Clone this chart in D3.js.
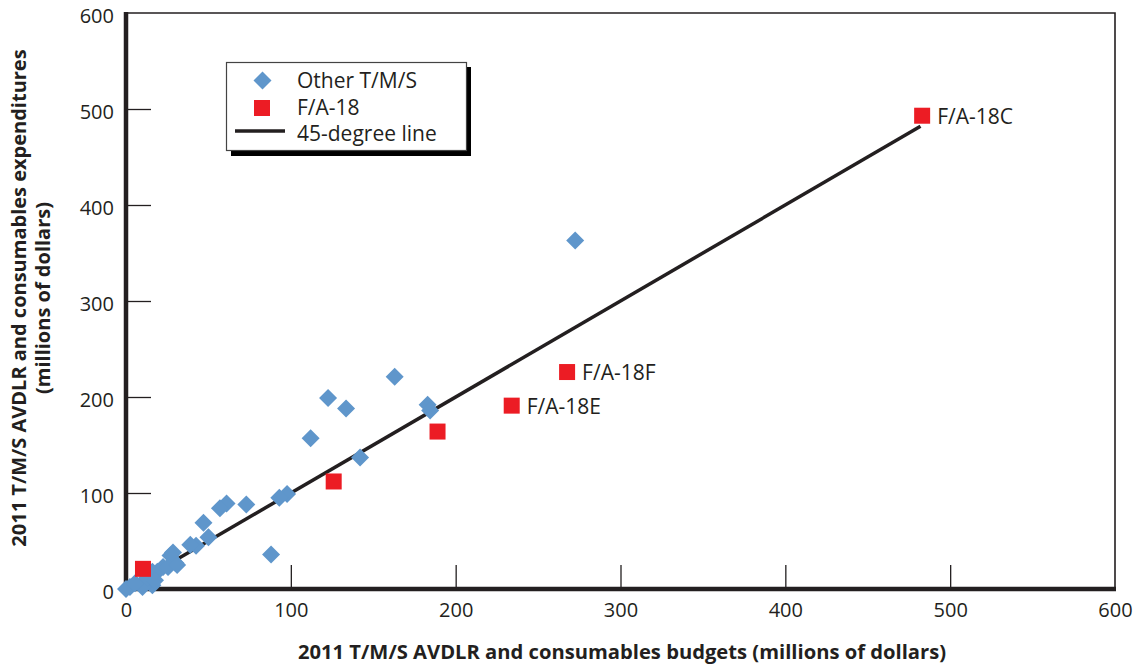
<!DOCTYPE html>
<html>
<head>
<meta charset="utf-8">
<script src="https://cdn.jsdelivr.net/npm/d3@7"></script>
<style>
  html, body { margin: 0; padding: 0; background: #fff; }
  svg { display: block; font-family: "Open Sans", "Noto Sans", sans-serif; }
</style>
</head>
<body>
<svg id="chart" width="1140" height="669"></svg>
<script>
// ---- data ----
const otherX = [272.5, 163, 122.6, 133.5, 112, 183, 184.5, 142, 97.7, 93, 88, 73, 61, 57, 47, 50, 42.5, 28.5, 30, 22.5, 19, 14.5, 10, 2.4, 0, 16, 10, 27, 25.5, 31, 13, 16, 5.5, 17.6, 39];
const otherY = [363, 221, 199, 188, 157, 192, 186, 137, 99, 95, 36, 88, 89, 84, 69, 54, 45, 38, 27, 23, 18, 11, 6, 2, 0, 4, 2, 35, 23, 25, 12, 18, 6, 9, 46];
const fa18X = [483, 267.6, 234, 189, 126, 10.3];
const fa18Y = [493, 226, 191, 164, 112, 21];
const fa18Labels = ["F/A-18C", "F/A-18F", "F/A-18E", "", "", ""];
const lineEnds = [0, 482];
const xTicks = [0, 100, 200, 300, 400, 500, 600];
const yTicks = [0, 100, 200, 300, 400, 500, 600];
const legendItems = ["Other T/M/S", "F/A-18", "45-degree line"];
const xTitle = "2011 T/M/S AVDLR and consumables budgets (millions of dollars)";
const yTitle1 = "2011 T/M/S AVDLR and consumables expenditures";
const yTitle2 = "(millions of dollars)";

const BLUE = "#5f96cb", RED = "#ec1c24", INK = "#231f20";

const svg = d3.select("#chart");
const L = 126, R = 1115, T = 13, B = 589;
const x = d3.scaleLinear().domain([0, 600]).range([L, R]);
const y = d3.scaleLinear().domain([0, 600]).range([B, T]);

// frame (thin top/right)
svg.append("path")
  .attr("d", `M${L},${T}H${R}V${B}`)
  .attr("fill", "none").attr("stroke", INK).attr("stroke-width", 1.6);

// inward ticks
const xAxis = d3.axisTop(x).tickValues(xTicks.slice(1, -1)).tickSize(24).tickFormat("");
svg.append("g").attr("transform", `translate(0,${B})`).call(xAxis)
  .call(g => g.select(".domain").remove())
  .call(g => g.selectAll("line").attr("stroke", INK).attr("stroke-width", 1.3));
const yAxis = d3.axisRight(y).tickValues(yTicks.slice(1, -1)).tickSize(25).tickFormat("");
svg.append("g").attr("transform", `translate(${L},0)`).call(yAxis)
  .call(g => g.select(".domain").remove())
  .call(g => g.selectAll("line").attr("stroke", INK).attr("stroke-width", 1.3));

// tick labels via axes
const xLab = d3.axisBottom(x).tickValues(xTicks).tickSize(0).tickPadding(14);
svg.append("g").attr("transform", `translate(0,${B})`).call(xLab)
  .call(g => g.select(".domain").remove())
  .call(g => g.selectAll("text").attr("font-size", 20).attr("fill", INK).attr("font-family", "Open Sans"));
const yLab = d3.axisLeft(y).tickValues(yTicks).tickSize(0).tickPadding(12);
svg.append("g").attr("transform", `translate(${L},2.6)`).call(yLab)
  .call(g => g.select(".domain").remove())
  .call(g => g.selectAll("text").attr("font-size", 20).attr("fill", INK).attr("font-family", "Open Sans"));

// thick left & bottom axes
svg.append("path")
  .attr("d", `M${L},${T - 1}V${B}H${R + 1}`)
  .attr("fill", "none").attr("stroke", INK).attr("stroke-width", 4.5);

// 45-degree line
svg.append("line")
  .attr("x1", x(lineEnds[0])).attr("y1", y(lineEnds[0]))
  .attr("x2", x(lineEnds[1])).attr("y2", y(lineEnds[1]))
  .attr("stroke", INK).attr("stroke-width", 3.5);

// diamonds
const dsz = 9;
const diamond = `M0,${-dsz}L${dsz},0L0,${dsz}L${-dsz},0Z`;
svg.append("g").selectAll("path").data(otherX.map((v, i) => [v, otherY[i]]))
  .join("path")
  .attr("d", diamond)
  .attr("transform", d => `translate(${x(d[0])},${y(d[1])})`)
  .attr("fill", BLUE);

// squares
const sq = 16;
const fa = fa18X.map((v, i) => ({ x: v, y: fa18Y[i], label: fa18Labels[i] }));
svg.append("g").selectAll("rect").data(fa).join("rect")
  .attr("x", d => x(d.x) - sq / 2).attr("y", d => y(d.y) - sq / 2)
  .attr("width", sq).attr("height", sq).attr("fill", RED);
svg.append("g").selectAll("text").data(fa.filter(d => d.label)).join("text")
  .attr("x", d => x(d.x) + 15).attr("y", d => y(d.y) + 8)
  .attr("font-size", 21).attr("fill", INK).text(d => d.label);

// axis titles
svg.append("text").attr("x", 622).attr("y", 659).attr("text-anchor", "middle")
  .attr("font-size", 20.2).attr("font-weight", "bold").attr("fill", INK).text(xTitle);
svg.append("text").attr("transform", "translate(26,298) rotate(-90)").attr("text-anchor", "middle")
  .attr("font-size", 20).attr("font-weight", "bold").attr("fill", INK).text(yTitle1);
svg.append("text").attr("transform", "translate(50,298) rotate(-90)").attr("text-anchor", "middle")
  .attr("font-size", 20).attr("font-weight", "bold").attr("fill", INK).text(yTitle2);

// legend
const lg = svg.append("g");
lg.append("rect").attr("x", 231).attr("y", 67).attr("width", 240).attr("height", 89).attr("fill", "#000");
lg.append("rect").attr("x", 226.5).attr("y", 62.5).attr("width", 240).attr("height", 88)
  .attr("fill", "#fff").attr("stroke", "#444").attr("stroke-width", 1.2);
lg.append("path").attr("d", diamond).attr("transform", "translate(262.5,80.5)").attr("fill", BLUE);
lg.append("rect").attr("x", 262 - 8).attr("y", 108 - 8).attr("width", 16).attr("height", 16).attr("fill", RED);
lg.append("line").attr("x1", 235).attr("x2", 285).attr("y1", 131).attr("y2", 131)
  .attr("stroke", INK).attr("stroke-width", 3.5);
lg.selectAll("text.leg").data(legendItems).join("text").attr("class", "leg")
  .attr("x", 297).attr("y", (d, i) => 88 + i * 26.5)
  .attr("font-size", 21).attr("fill", INK).text(d => d);
</script>
</body>
</html>
